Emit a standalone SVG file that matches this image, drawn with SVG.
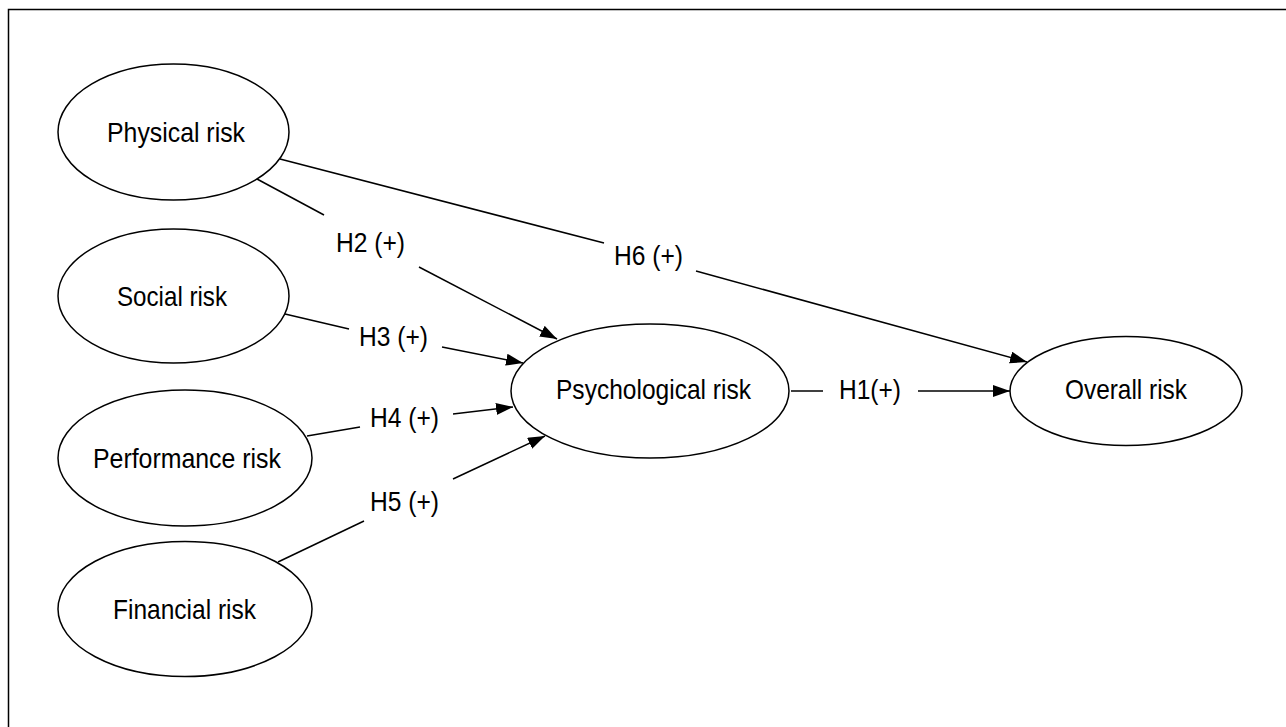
<svg xmlns="http://www.w3.org/2000/svg" width="1286" height="727" viewBox="0 0 1286 727">
<style>
.node ellipse{fill:#fff;stroke:#000;stroke-width:1.5}
text{font-family:"Liberation Sans",Arial,sans-serif;font-size:28px;fill:#000}
.conn line{stroke:#000;stroke-width:1.5}
</style>
<defs>
<marker id="arr" markerUnits="userSpaceOnUse" markerWidth="20" markerHeight="14" refX="17" refY="6" orient="auto">
<path d="M0,0 L17,6 L0,12 z" fill="#000"/>
</marker>
</defs>
<rect width="1286" height="727" fill="#fff"/>
<path d="M8.5,727 V9.5 H1286" fill="none" stroke="#000" stroke-width="1.5"/>
<g class="conn">
<line x1="257" y1="179" x2="324" y2="215"/>
<line x1="419" y1="267" x2="557" y2="339" marker-end="url(#arr)"/>
<line x1="280" y1="159" x2="604" y2="243"/>
<line x1="696" y1="271" x2="1027" y2="362" marker-end="url(#arr)"/>
<line x1="285" y1="314" x2="349" y2="329"/>
<line x1="442" y1="347" x2="523" y2="363" marker-end="url(#arr)"/>
<line x1="307" y1="436" x2="360" y2="427"/>
<line x1="453" y1="414" x2="513" y2="407" marker-end="url(#arr)"/>
<line x1="278" y1="562" x2="364" y2="521"/>
<line x1="453" y1="479" x2="545" y2="436" marker-end="url(#arr)"/>
<line x1="791" y1="391" x2="823" y2="391"/>
<line x1="918" y1="391" x2="1010" y2="391" marker-end="url(#arr)"/>
<text x="336" y="252" textLength="69" lengthAdjust="spacingAndGlyphs">H2 (+)</text>
<text x="614" y="265" textLength="69" lengthAdjust="spacingAndGlyphs">H6 (+)</text>
<text x="359" y="346" textLength="69" lengthAdjust="spacingAndGlyphs">H3 (+)</text>
<text x="370" y="427" textLength="69" lengthAdjust="spacingAndGlyphs">H4 (+)</text>
<text x="370" y="511" textLength="69" lengthAdjust="spacingAndGlyphs">H5 (+)</text>
<text x="839" y="399" textLength="62" lengthAdjust="spacingAndGlyphs">H1(+)</text>
</g>
<g id="physical" class="node">
<ellipse cx="173.5" cy="132" rx="115.5" ry="68"/>
<text x="107" y="142" textLength="138" lengthAdjust="spacingAndGlyphs">Physical risk</text>
</g>
<g id="social" class="node">
<ellipse cx="173.5" cy="296" rx="115.5" ry="67"/>
<text x="117" y="306" textLength="110" lengthAdjust="spacingAndGlyphs">Social risk</text>
</g>
<g id="performance" class="node">
<ellipse cx="185" cy="458" rx="127" ry="68"/>
<text x="93" y="468" textLength="188" lengthAdjust="spacingAndGlyphs">Performance risk</text>
</g>
<g id="financial" class="node">
<ellipse cx="185" cy="609" rx="127" ry="67.5"/>
<text x="113" y="619" textLength="143" lengthAdjust="spacingAndGlyphs">Financial risk</text>
</g>
<g id="psychological" class="node">
<ellipse cx="650" cy="391" rx="139" ry="67"/>
<text x="556" y="399" textLength="195" lengthAdjust="spacingAndGlyphs">Psychological risk</text>
</g>
<g id="overall" class="node">
<ellipse cx="1126" cy="391" rx="116" ry="54.5"/>
<text x="1065" y="399" textLength="122" lengthAdjust="spacingAndGlyphs">Overall risk</text>
</g>
</svg>
